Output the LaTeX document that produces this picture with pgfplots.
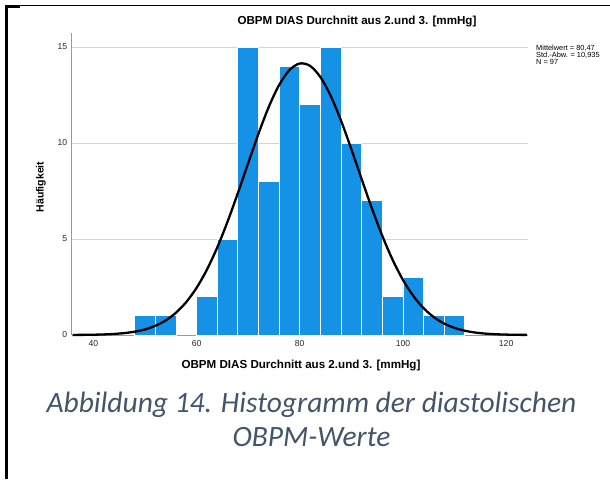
\documentclass[border=0pt]{standalone}
\usepackage{fontspec}
\setmainfont{Liberation Sans}
\newfontfamily\carlito{Carlito}
\usepackage{pgfplots}
\pgfplotsset{compat=1.18}
\definecolor{barblue}{HTML}{1592E6}
\definecolor{capcol}{HTML}{44546A}
\definecolor{axgray}{HTML}{9A9A9A}
\definecolor{gridgray}{HTML}{D4D4D4}
\begin{document}
\begin{tikzpicture}[x=1pt,y=1pt]
\useasboundingbox (0,0) rectangle (610,479);
% frame
\draw[line width=2.6pt] (6.5,0) -- (6.5,474);
\draw[line width=1.1pt] (5.2,473.5) -- (610,473.5);
\draw[line width=2.4pt] (5.2,472.6) -- (20,472.6);
\begin{axis}[
  at={(71.7pt,144pt)}, anchor=south west,
  scale only axis, width=456.6pt, height=302pt,
  xmin=35.8, xmax=124.3, ymin=0, ymax=15.73,
  axis lines*=left,
  axis line style={axgray, line width=0.8pt},
  xtick={40,60,80,100,120}, ytick={0,5,10,15},
  tick style={draw=none},
  ymajorgrids, grid style={gridgray, line width=0.8pt},
  /pgf/number format/assume math mode=true,
  tick label style={font=\fontsize{8.6}{10}\selectfont, text=black!85},
  xticklabel style={yshift=-2pt},
  yticklabel style={xshift=-1pt},
  clip=false,
]
\addplot[ybar interval, fill=barblue, draw=white, line width=0.8pt]
  coordinates {(48,1)(52,1)(56,1)};
\addplot[ybar interval, fill=barblue, draw=white, line width=0.8pt]
  coordinates {(60,2)(64,5)(68,15)(72,8)(76,14)(80,12)(84,15)(88,10)(92,7)(96,2)(100,3)(104,1)(108,1)(112,1)};
\addplot[black, line width=2.3pt, smooth] coordinates {
(36,0.0036)(38,0.0075)(40,0.0150)(42,0.0291)(44,0.0544)(46,0.0985)(48,0.172)(50,0.292)
(52,0.478)(54,0.756)(56,1.157)(58,1.714)(60,2.455)(62,3.400)(64,4.553)(66,5.897)
(68,7.388)(70,8.951)(72,10.486)(74,11.882)(76,13.020)(78,13.798)(80,14.142)(82,14.018)
(84,13.436)(86,12.455)(88,11.167)(90,9.682)(92,8.119)(94,6.584)(96,5.164)(98,3.917)
(100,2.872)(102,2.038)(104,1.398)(106,0.927)(108,0.595)(110,0.369)(112,0.222)(114,0.129)
(116,0.072)(118,0.039)(120,0.021)(122,0.010)(124,0.005)};
\end{axis}
\node[font=\bfseries\fontsize{11.6}{13}\selectfont] at (357,457) {OBPM DIAS Durchnitt aus 2.und 3. [mmHg]};
\node[font=\bfseries\fontsize{11.6}{13}\selectfont] at (301,113) {OBPM DIAS Durchnitt aus 2.und 3. [mmHg]};
\node[font=\bfseries\fontsize{10.5}{12}\selectfont, rotate=90] at (41,292) {Häufigkeit};
\node[anchor=north west, font=\fontsize{7.4}{7.2}\selectfont, align=left, inner sep=0pt] at (536,434) {Mittelwert = 80,47\\Std.-Abw. = 10,935\\N = 97};
\node[font=\carlito\itshape\fontsize{29.5}{34}\selectfont, text=capcol] at (311.5,74) {Abbildung 14. Histogramm der diastolischen};
\node[font=\carlito\itshape\fontsize{29.5}{34}\selectfont, text=capcol] at (311.5,42) {OBPM-Werte};
\end{tikzpicture}
\end{document}
